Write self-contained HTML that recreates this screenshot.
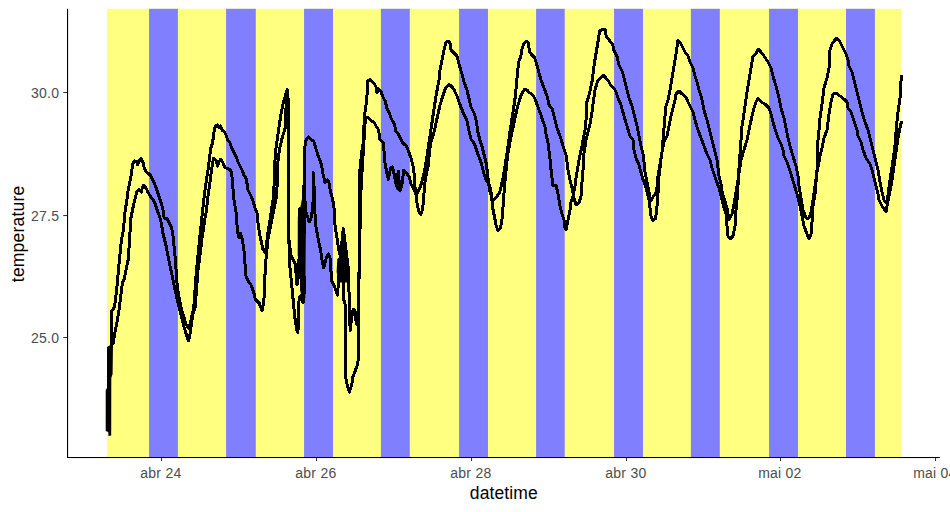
<!DOCTYPE html>
<html><head><meta charset="utf-8"><title>temperature vs datetime</title>
<style>
html,body{margin:0;padding:0;background:#fff;}
body{width:950px;height:512px;overflow:hidden;}
svg{display:block;}
</style></head>
<body>
<svg width="950" height="512" viewBox="0 0 950 512">
<rect width="950" height="512" fill="#fff"/>
<rect x="107" y="8.8" width="794" height="448.2" fill="#FFFF80"/>
<rect x="149.05" y="8.8" width="28.85" height="448.2" fill="#8080FF"/>
<rect x="226.1" y="8.8" width="29.70" height="448.2" fill="#8080FF"/>
<rect x="304.06" y="8.8" width="28.91" height="448.2" fill="#8080FF"/>
<rect x="380.9" y="8.8" width="28.90" height="448.2" fill="#8080FF"/>
<rect x="459.06" y="8.8" width="28.91" height="448.2" fill="#8080FF"/>
<rect x="536.1" y="8.8" width="28.60" height="448.2" fill="#8080FF"/>
<rect x="614.06" y="8.8" width="28.91" height="448.2" fill="#8080FF"/>
<rect x="690.9" y="8.8" width="28.90" height="448.2" fill="#8080FF"/>
<rect x="769.06" y="8.8" width="28.91" height="448.2" fill="#8080FF"/>
<rect x="846.0" y="8.8" width="28.90" height="448.2" fill="#8080FF"/>
<g fill="none" stroke="#000" stroke-width="3.0" stroke-linejoin="round" stroke-linecap="round" shape-rendering="crispEdges">
<polyline points="111.3,346 111.4,320 111.6,311 113,309.5 114.6,305.9 115.6,298 116.6,290.2 117.6,280.5 118.5,268.8 119.5,259 120.5,249.3 121.5,239.5 123.4,229.8 125,212.5 126.6,201.6 128.1,190.6 129.7,182.8 131.25,175 132,168.75 132.8,164 134.4,161 136.7,161.7 137.5,164.8 139.8,160.2 141.4,158.6 143,162.5 144.5,168.75 146.1,171.9 148.4,173.4 150.8,175.8 153.1,180.5 155.5,186 157,190.6 158.6,195.3 160.2,200 161.7,204.7 163.3,211 164,217.2 165.6,218.75 167.2,218.75 168.75,221.9 171.1,226.6 172.6,232 173.8,243.8 174.7,252 175.7,264.5 176.7,280.2 178.6,295.8 181.6,309.5 184.5,319.2 186.4,325 188.4,328 190.3,323.5 191.5,318 193.7,307.9 195,290 196.3,272.7 198,255 199.8,237.6 201.6,220 203.2,205.7 204.5,194 205.5,186 206.7,178 208,170 209.7,156.9 210.5,149 212,144.4 213.6,136.6 214.4,128 216,125.8 217.5,125 219,128 220.6,125.8 222.2,130.2 224.5,131.9 226.1,135 227.7,140.5 230,142.8 231.6,147.5 233.9,152.2 236.25,156.9 237.8,161.6 240.2,166.25 242.5,171 244,175.6 246.4,178.75 247.2,185 248,190 251,196 253,201 255,208 257,213 258.2,225 260,236 262.9,249 265.5,253 267.2,238 268.7,228 270.2,218.6 273.1,199 274.3,182 274.6,170 275.3,153.4 276.8,142.5 278.4,131.6 280,120.6 281.5,111.25 283.1,103.4 285.4,95.6 287.3,89.4 288.2,100 288.25,139.4 288.8,188.6 288.75,236 289.5,258.5 290,267.6 291.7,285 293.4,302.7 295.2,320.3 297,330.8 297.8,332.6 298.7,320.3 298.7,302.7 299.6,297.5 301.3,295.7 303.1,302.7 304,294 304,276.4 303.8,250 304.2,220 304.4,190 304.6,148.75 306.2,139.4 308.5,137 310.8,139.4 314,141.7 315.5,147.2 317.9,155 320.2,161.25 321.8,166 322.6,172.2 324.1,178.4 324.9,183 327.25,180 328.8,181.6 330.4,191 332,197.2 333.5,203.4 334.3,210 335,225 336.9,237.5 338.75,250 340,255 340.6,264 342.5,276 343.3,282.3 343.9,300 345,303.4 345.3,320 345.4,340 345.2,362 345.8,378.4 347.5,386 349.4,392 351.6,385.3 353,376.6 355.2,370.8 357.4,365 358.8,356.4 358.8,326 358.1,301.5 358.75,276.5 359.4,264 359.3,210 359.3,184.7 360,169 361.6,153.4 363.2,142.5 364,125 364.6,114.7 366.6,101 368,80.5 370,79.8 372.1,81.9 374.8,84.6 376.2,87.4 376.9,92.8 378.3,88.7 381,91.5 383,97 385.1,101 387,108.5 389.3,113.2 391.6,119.4 394.5,124 395.5,130.4 397.9,133.5 400.2,138.2 402.6,142.9 406.5,146 408.8,152.25 411.2,158.5 413.5,167.9 414.3,176 414.6,184 415.5,191 416.4,198.3 417.3,205.4 419.1,212.6 420.9,214.4 422.7,209 423.6,198.3 424.5,187.5 425.4,178.5 428.1,166 429.2,155 430.5,143 432.8,136.6 435.2,127.25 437.5,116.3 439.9,105.4 442.5,97 445.3,88.7 447.5,86 449.4,84.6 451.5,86.5 453.5,88.7 457,96 459.3,103 463.6,113.7 466.8,120 469,130.9 471.1,139.5 474.4,143.8 476.5,150.2 479.7,158.8 481.9,165.3 484,173.9 486.2,180.3 489.4,184.6 491.2,193.2 492,201 492.7,208 494.5,217 496.2,225.7 498,231 500.6,227.5 502.4,217 503.3,202.8 504.2,190.5 505.5,176 507.7,154.5 510.9,137.3 514.1,122.3 517.4,107.2 520.6,96.5 523,91.5 525,89 527,90 529,92.5 531,93.5 533.5,96 535.5,100 537,104.5 540.6,114 542.9,121 545.3,128 546.4,137.5 547.6,139.8 548.8,149.2 550,158.6 551.1,170.3 552.3,180 553,186 556,185 558,194 560,206 562,214 564,220 565,228 566,230 568,220 570,210 571,202 573,196 575,186 576,178 579,160 582,146 585,130 586.5,115 586.9,101.7 589,95.3 592.3,80.2 594.4,63 596.6,50.1 598.7,37.2 599.8,30.75 602,29.7 605.2,29.7 606.2,36.1 609.5,40.4 612.7,44.7 613.8,50.1 617,56.6 619.1,65.2 622.4,71.6 624.5,80.2 626.7,88.8 628.8,97.4 632,106 634.2,114.6 636.3,123.2 637.5,128 639,136 641,146 643,154 644,162 645,172 647,182 649,192 650.5,201 653.8,195.8 656.4,192.3 657.3,185.2 658,176 660,164 662,152 663,140 664,128 665,116 666,106 668,100 670,90 672,78 674,66 676,54 678,40 681,44 683,48 685,52 688,56 690,62 693,68 695,76 697,82 699,90 701,96 702,100 704,110 707,120 709,128 711,136 713,144 715,152 717,160 718,168 719,176 721,184 722.5,194 724,198 727,208 729,220 732,214 734,204 736,192 738,180 741,160 744,150 747,140 749,130 752,116 754,108 756,102 758,98 761,102 765,104 769,108 771,114 773,122 776,132 778,138 781,144 783,150 784,156 787,162 789,168 791,174 794,184 797,194 800,206 802,216 804,226 807,234 809,239 811,234 812,222 813,206 815,194 816,182 817,170 817.5,156 818,140 819,130 820,118 822,104 824,88 827,78 829,68 830,50 832,44 835,40 837,38 840,42 843,48 846,54 848,60 849,66 852,72 854,80 856,88 858,96 860,104 862,112 865,122 868,130 871,142 874,154 876,162 878,170 880,182 882,192 884,200 886,203 888.2,200 891.6,182.9 894.9,159.7 898.2,136.4 901.3,122"/>
<polyline points="113,344 114.4,335 117,322 118.5,313.7 119.5,305.9 120.5,298 121.5,290.2 122.4,282.4 124.4,278.5 126.3,268.8 128.3,259 128.9,251.2 129.3,239.5 130.2,229.8 130.5,220.3 132,212.5 133.6,204.7 135.2,198.4 136.7,192.2 139.1,189.8 141.4,192.2 142.2,188.3 143.75,185.2 146.1,188.3 148.4,193 150.8,196.9 153.1,200 155.5,204.7 157,209.4 158.6,214 160.2,218.75 161.7,225 162.6,232 165.9,245 168.9,260.6 171.8,274.3 174.7,288 177.6,301.6 180.6,313.4 183.5,325 186.4,334.8 188.4,340.7 189.6,337 191.5,323 193.2,313 195,307.9 196.5,290 197.7,272.7 200,255 202.1,237.6 204.7,220 206.5,210 208.1,195.1 209.5,186 210.5,178 211.6,170 212.5,164 213.6,158.4 216,160 217.5,166.25 219,161.6 220.6,159.2 223,163 224.5,167 226.9,168.6 230,169.4 231.6,172.5 232.3,180.3 233.1,190 234,200 236,212 237,225 237.8,232.4 239,238 240.6,233.4 242.4,239.9 244.3,252.9 245,264 246.1,277 248,280.7 250.8,284.4 253.6,291.9 255.4,299.3 257.3,301.2 259.1,303 262,310.5 263.8,303 264.7,280.7 265.7,262 266.6,252.9 268.1,238 272.1,218.6 276,199 277.5,182 277.4,168 278.4,157 279.9,147.3 282.3,137.5 285.2,127.8 285.8,115 286.2,101.9 287,96 288.6,110 289,160 289,200 288.9,239.75 291,255.4 293.4,260 295.7,264.75 296,272.8 297,285 298.7,274.6 299.2,250 299.8,208.7 301.6,240 302.2,262 303,230 303.7,186 305.9,211.6 309.2,222 311.5,217 313.1,201.6 313.2,172.2 314.2,188.6 314.75,210 316,227.25 318.4,239.75 320.7,250.7 322.3,261.6 323.8,267.9 326.2,258.5 328.5,253.8 330.1,258.5 330.9,269.4 331.1,273 331.9,281 334.25,285.6 335.8,290.3 337.6,295 338.2,285.6 339,275 340.5,256 343.3,228.6 346.75,256 348.3,268.4 348.5,280 349.1,294 349.7,303.4 349.7,321 350.3,330.4 351.5,318 353.2,309.3 355,310.5 355.6,318.7 356.8,324.5 358.3,326 358.6,300 359.3,264 360.2,220 361,190 362,172 364,140 365,124 366.5,117 368,117 371,121 374,122 376,126 378.7,130 379.6,139 383.2,142.6 384.1,151.6 384.5,158 385.1,164.25 386.3,169.7 387.5,176 388.3,179.5 389.4,173.6 390.6,168.2 392.2,167 393.3,169.5 394.5,176 395.5,182 396.8,186 397.6,176 398.4,171.5 399,180 399.6,188 400.4,190.3 401.5,186 402.7,180 403.5,170.5 405,172 407,173.8 409,176.5 411,184 412.8,187.5 414.6,191 417.3,193 420,187.5 421.8,182 423.6,175 425.4,166 426.6,158.5 428.9,142.9 431.3,127.25 433.6,111.6 436,96 437.5,88 439,80 440,70 442,60 444,50 446,42 448,41 450,43 451,50 454,53 457,56 459,64 462,74 464,82 467,90 469,98.6 471.1,107.2 474.4,113.7 476.5,122.3 477.6,130.9 479.7,139.5 481.9,146 484,154.5 486.2,163.1 487.3,171.7 488.3,180.3 489.4,189 491.2,196 492.7,201 496.2,197.5 499.8,192.3 503.4,176 505.5,163 507.7,148 509.8,133 512,118 514.1,105 515.5,95 516.6,82 518.7,61.5 520.7,57.4 522,49 524,43 526.2,41.6 528.2,42.3 529.6,51.9 531.7,54.6 534.4,57.4 535.8,61.5 537.8,68.3 540.6,78.75 544,88 547.6,97.5 548.8,104.5 552.3,109.2 554.6,118.6 557,128 560.5,137.5 564,149.2 566.4,156.25 567.6,168 570,180 572,188 574,198 576,205 579,203 581,196 582,182 583,170 583,160 586,140 590,124 592,112 593,104 595,90 598,80 601,78 603,75 606,78 609,82 611,86 614,88 616,92 618,98 621,105 624,116 627,126 630,136 633,140 634,150 636.2,158.8 638.8,164 640.6,171 643.2,180 645.8,187 647.6,194 649.4,201 650.2,209.9 651.1,216.9 652.9,220.4 655.5,218.7 656.4,211.6 657.3,202.8 658.2,190.5 659,176.4 660.8,160.6 662,152 664,142 667,136 669,126 671,116 673,108 675,100 676,94 679,91 682,94 686,97 688,102 690,106 693,112 695,120 698,130 701,138 704,146 707,154 710,160 712,168 714,174 716,180 719,188 721,196 723,204 726,214 727,226 728,236 730,239 733,236 735,226 736,210 737,200 738,186 738.5,175 740,154 741,140 742,126 743,120 745,106 747,92 749,80 751,68 753,56 756,54 758,49 761,52 764,56 768,62 771,68 773,76 776,86 779,98 781,108 784,118 786,128 788,138 790,146 793,156 796,166 798,176 799,186 801,198 803,210 806,218 809,218 811,212 813,200 815,186 817,172 819,162 820,156 822,148 824,138 827,130 829,114 831,102 833,94 836,93 840,96 844,99 847,102 848,108 851,112 853,118 855,124 857,130 858,136 861,142 863,150 866,158 870,164 872,170 874,178 876,186 878,194 879,200 882,206 886,212 887.2,205 888.2,193 891.6,169.6 894.9,146.4 896.5,126.4 898.2,109.8 899.9,99.9 901.3,76"/>
</g>
<polygon points="107,347 113,343.5 112.6,374 111.3,378 111.2,435.5 108.5,436 108.3,432 105.7,431 105.7,390 107,388" fill="#000"/>
<polygon points="297.7,256 297.8,217.4 299,209.2 300.2,208 302,198.7 303.2,186 305.5,186 306,215 305.6,258 305.3,298 303.2,302 301.3,295 300,290 300,258" fill="#000"/>
<polygon points="337.3,259 340.5,256 343.3,228.6 346.75,256 348.6,270 347,282.5 339,282.5 336.6,272" fill="#000"/>
<polygon points="393.8,181 396.5,189.5 400.4,192.5 402.8,186 403.3,175 400.5,183 398.5,176" fill="#000"/>
<rect x="67" y="8.8" width="1.1" height="449.20" fill="#000"/>
<rect x="67" y="457" width="872.8" height="1.05" fill="#000"/>
<rect x="161.0" y="458" width="1.05" height="3" fill="#333"/>
<rect x="316.0" y="458" width="1.05" height="3" fill="#333"/>
<rect x="471.0" y="458" width="1.05" height="3" fill="#333"/>
<rect x="626.0" y="458" width="1.05" height="3" fill="#333"/>
<rect x="780.0" y="458" width="1.05" height="3" fill="#333"/>
<rect x="935.0" y="458" width="1.05" height="3" fill="#333"/>
<rect x="63.3" y="92.0" width="3.8" height="1.05" fill="#333"/>
<rect x="63.3" y="215.0" width="3.8" height="1.05" fill="#333"/>
<rect x="63.3" y="337.0" width="3.8" height="1.05" fill="#333"/>
<g font-family="&quot;Liberation Sans&quot;, sans-serif" font-size="14" fill="#4D4D4D" letter-spacing="0.25">
<text x="160.9" y="477.8" text-anchor="middle">abr 24</text>
<text x="315.9" y="477.8" text-anchor="middle">abr 26</text>
<text x="470.9" y="477.8" text-anchor="middle">abr 28</text>
<text x="625.9" y="477.8" text-anchor="middle">abr 30</text>
<text x="779.9" y="477.8" text-anchor="middle">mai 02</text>
<text x="934.9" y="477.8" text-anchor="middle">mai 04</text>
<text x="59.2" y="98.1" text-anchor="end">30.0</text>
<text x="59.2" y="221.1" text-anchor="end">27.5</text>
<text x="59.2" y="343.1" text-anchor="end">25.0</text>
</g>
<g font-family="&quot;Liberation Sans&quot;, sans-serif" font-size="17.5" fill="#000">
<text x="503.8" y="498.6" text-anchor="middle" letter-spacing="0.1">datetime</text>
<text transform="translate(23.9,233.9) rotate(-90)" text-anchor="middle" letter-spacing="0.2">temperature</text>
</g>
</svg>
</body></html>
